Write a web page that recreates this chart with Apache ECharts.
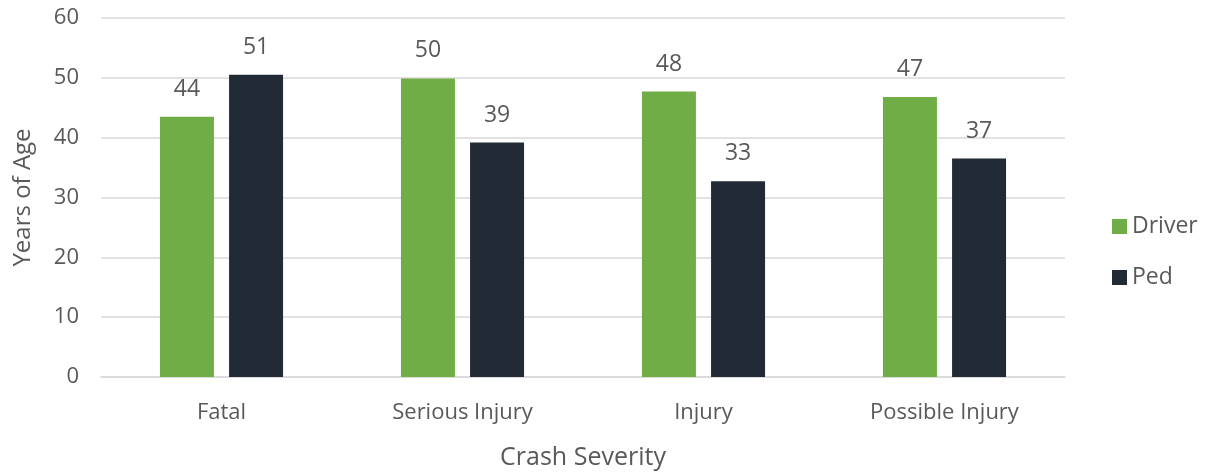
<!DOCTYPE html>
<html>
<head>
<meta charset="utf-8">
<script src="https://cdn.jsdelivr.net/npm/echarts@6/dist/echarts.min.js"></script>
<style>html,body{margin:0;padding:0;background:#fff}#c{width:1210px;height:475px}</style>
</head>
<body>
<div id="c"></div>
<script>
const categories = ['Fatal', 'Serious Injury', 'Injury', 'Possible Injury'];
const driverValues = [43.5, 49.9, 47.7, 46.8];
const pedValues = [50.5, 39.2, 32.7, 36.5];
const seriesNames = ['Driver', 'Ped'];

const font = '"Open Sans", "Noto Sans", sans-serif';
const grey = '#595959';
const chart = echarts.init(document.getElementById('c'));
const labelOpt = {
  show: true, position: 'top', distance: 16,
  color: grey, fontSize: 23, fontFamily: font,
  formatter: p => Math.round(p.value)
};
chart.setOption({
  animation: false,
  textStyle: { fontFamily: font },
  grid: { left: 101, right: 145, top: 18, bottom: 98 },
  legend: {
    orient: 'vertical', left: 1107, top: 210,
    itemWidth: 15, itemHeight: 15, itemGap: 28,
    icon: 'rect',
    textStyle: { color: grey, fontSize: 23, fontFamily: font },
    data: seriesNames
  },
  xAxis: {
    type: 'category', data: categories,
    name: 'Crash Severity', nameLocation: 'middle', nameGap: 68,
    nameTextStyle: { color: grey, fontSize: 25, fontFamily: font },
    axisLine: { show: true, lineStyle: { color: '#d9d9d9', width: 1.5 } },
    axisTick: { show: false },
    axisLabel: { color: grey, fontSize: 22, margin: 25, fontFamily: font }
  },
  yAxis: {
    type: 'value', min: 0, max: 60, interval: 10,
    name: 'Years of Age', nameLocation: 'middle', nameGap: 66,
    nameTextStyle: { color: grey, fontSize: 24, fontFamily: font },
    axisLine: { show: false }, axisTick: { show: false },
    splitLine: { lineStyle: { color: '#d9d9d9', width: 1.5 } },
    axisLabel: { color: grey, fontSize: 22, margin: 22, fontFamily: font }
  },
  series: [
    { name: seriesNames[0], type: 'bar', data: driverValues, barWidth: 54, barGap: '28%',
      itemStyle: { color: '#70ad47' }, label: labelOpt },
    { name: seriesNames[1], type: 'bar', data: pedValues, barWidth: 54,
      itemStyle: { color: '#222a35' }, label: labelOpt }
  ]
});
</script>
</body>
</html>
